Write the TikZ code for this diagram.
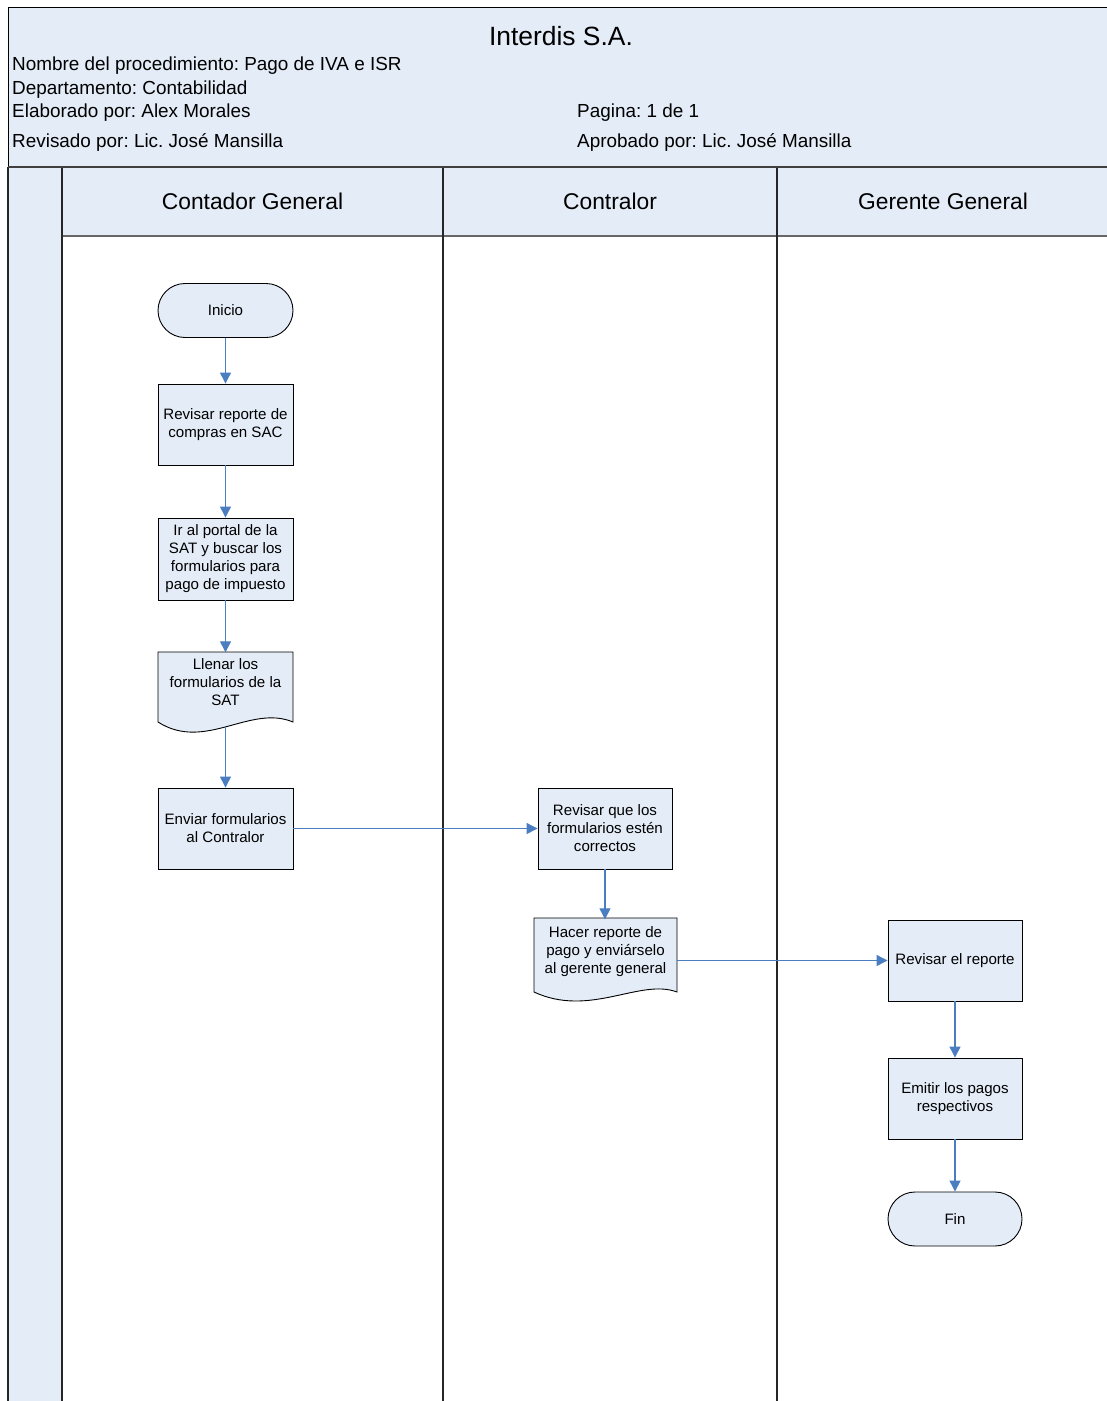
\documentclass[tikz,border=0pt]{standalone}
\usepackage{fontspec}
\setmainfont{Liberation Sans}
\usetikzlibrary{arrows.meta}
\definecolor{lanefill}{HTML}{E4ECF7}
\definecolor{flowblue}{HTML}{4A7EC0}
\frenchspacing
\begin{document}
\begin{tikzpicture}[x=1pt,y=1pt,
  stepbox/.style={draw=black, line width=0.9pt, fill=lanefill,
    minimum width=135pt, minimum height=81pt, align=center,
    font=\fontsize{15.1}{18}\selectfont, inner sep=2pt},
  endbox/.style={stepbox, minimum height=54pt, rounded corners=27pt},
  docshape/.style={draw=black, line width=0.9pt, fill=lanefill},
  doctext/.style={align=center, font=\fontsize{15.1}{18}\selectfont,
    inner sep=2pt},
  infotext/.style={anchor=base west, inner sep=0pt,
    font=\fontsize{18.9}{23}\selectfont},
  lanetitle/.style={anchor=base, inner sep=0pt,
    font=\fontsize{22.8}{27}\selectfont},
  laneline/.style={draw=black!85, line width=1.2pt},
  flow/.style={draw=flowblue, line width=1.2pt,
    -{Triangle[width=11pt,length=11pt]}}]

\useasboundingbox (0,0) rectangle (1107,-1401);

% title block
\draw[fill=lanefill, line width=1pt] (1110,-7) -- (8,-7) -- (8,-167) -- (1110,-167);
\node[anchor=base, inner sep=0pt, font=\fontsize{26.4}{30}\selectfont]
  (title) at (561,-45.5) {Interdis S.A.};
\node[infotext] (proc) at (12,-70.3) {Nombre del procedimiento: Pago de IVA e ISR};
\node[infotext] (dept) at (12,-94.5) {Departamento: Contabilidad};
\node[infotext] (elab) at (12,-117.5) {Elaborado por: Alex Morales};
\node[infotext] (rev)  at (12,-147.5) {Revisado por: Lic. José Mansilla};
\node[infotext] (page) at (577,-117.5) {Pagina: 1 de 1};
\node[infotext] (aprob) at (577,-147.5) {Aprobado por: Lic. José Mansilla};

% swimlanes
\fill[lanefill] (62,-167) rectangle (1110,-236);
\fill[lanefill] (8,-167) rectangle (62,-1405);
\draw[draw=black!60, line width=1.3pt] (62,-236) -- (1110,-236);
\draw[laneline] (8,-167) -- (8,-1405);
\draw[laneline] (62,-167) -- (62,-1405);
\draw[laneline] (443,-167) -- (443,-1405);
\draw[laneline] (777,-167) -- (777,-1405);
\draw[draw=black!75, line width=2.2pt] (8,-167) -- (1110,-167);

\node[lanetitle] (laneA) at (252.5,-209.5) {Contador General};
\node[lanetitle] (laneB) at (610,-209.5) {Contralor};
\node[lanetitle] (laneC) at (943,-209.5) {Gerente General};

% Contador General
\node[endbox] (inicio) at (225.5,-310.5) {Inicio};
\node[stepbox] (revsac) at (225.5,-424.5) {Revisar reporte de\\compras en SAC};
\node[stepbox, minimum height=82pt] (portal) at (225.5,-559)
  {Ir al portal de la\\SAT y buscar los\\formularios para\\pago de impuesto};
\draw[docshape] (158,-652) -- (293,-652) -- (293,-722)
  .. controls (250,-704) and (205,-752) .. (158,-722) -- cycle;
\node[doctext, minimum width=135pt, minimum height=60pt] (llenar) at (225.5,-682.5)
  {Llenar los\\formularios de la\\SAT};
\coordinate (llenarwave) at (225.5,-726.5);
\node[stepbox] (enviar) at (225.5,-828.5) {Enviar formularios\\al Contralor};

% Contralor
\node[stepbox, minimum width=134pt] (revform) at (605,-828.5)
  {Revisar que los\\formularios estén\\correctos};
\draw[docshape] (534,-918) -- (677,-918) -- (677,-992)
  .. controls (640,-978) and (590,-1018) .. (534,-992) -- cycle;
\node[doctext, minimum width=143pt, minimum height=64pt] (hacer) at (605.5,-951.5)
  {Hacer reporte de\\pago y enviárselo\\al gerente general};

% Gerente General
\node[stepbox, minimum width=134pt] (revrep) at (955,-960.5) {Revisar el reporte};
\node[stepbox, minimum width=134pt] (emitir) at (955,-1098.5)
  {Emitir los pagos\\respectivos};
\node[endbox, minimum width=134pt] (fin) at (955,-1219) {Fin};

% flow
\draw[flow] (inicio) -- (revsac);
\draw[flow] (revsac) -- (portal);
\draw[flow] (portal) -- (llenar.north);
\draw[flow] (llenarwave) -- (enviar);
\draw[flow] (enviar) -- (revform);
\draw[flow] (revform.south) -- (revform.south |- hacer.north);
\draw[flow] (hacer.east |- revrep.west) -- (revrep.west);
\draw[flow] (revrep) -- (emitir);
\draw[flow] (emitir) -- (fin);
\end{tikzpicture}
\end{document}
